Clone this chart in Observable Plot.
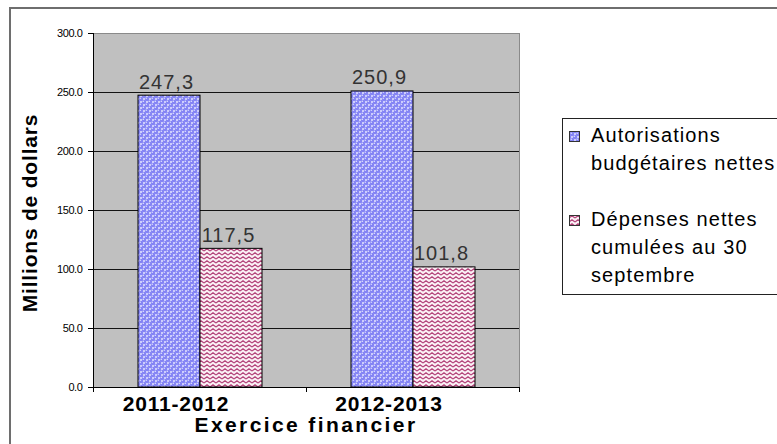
<!DOCTYPE html>
<html>
<head>
<meta charset="utf-8">
<script src="https://cdn.jsdelivr.net/npm/d3@7"></script>
<script src="https://cdn.jsdelivr.net/npm/@observablehq/plot@0.6"></script>
<style>
  body { margin: 0; background: #fff; font-family: Arial, "Liberation Sans", sans-serif; }
  #wrap { position: relative; width: 777px; height: 444px; overflow: hidden; background: #fff; }
  #border { position: absolute; left: 9px; top: 7px; width: 900px; height: 600px;
            border-left: 2px solid #6e6e6e; border-top: 2px solid #6e6e6e; }
  #chart { position: absolute; left: 0; top: 0; }
  #legend { position: absolute; left: 562px; top: 118px; width: 300px; height: 177px;
            border: 1px solid #222; background: #fff; box-sizing: border-box;
            font-size: 20px; line-height: 28px; letter-spacing: 1.1px; color: #000; padding-top: 2px; }
  .entry { position: relative; padding-left: 28px; margin-bottom: 28px; }
  .entry svg { position: absolute; left: 6px; top: 10px; }
  [aria-label="fx-axis tick label"] text { letter-spacing: 0.8px; }
  [aria-label="y-axis tick label"] text { letter-spacing: -0.4px; }
  .vlabel text { letter-spacing: 1px; }
</style>
</head>
<body>
<div id="wrap">
  <div id="border"></div>
  <div id="chart"></div>
  <div id="legend"></div>
</div>
<script>
const years = ["2011-2012", "2012-2013"];
const seriesNames = ["Autorisations budgétaires nettes", "Dépenses nettes cumulées au 30 septembre"];
const autorisations = [247.3, 250.9];
const depenses = [117.5, 101.8];
const yTicks = [0, 50, 100, 150, 200, 250, 300];
const gridTicks = [50, 100, 150, 200, 250];
const legendLines = [["Autorisations", "budgétaires nettes"], ["Dépenses nettes", "cumulées au 30", "septembre"]];
const patternIds = ["pat-dots", "pat-zigzag"];
const yTitle = "Millions de dollars";
const xTitle = "Exercice financier";

const data = years.flatMap((y, i) => [
  {year: y, series: seriesNames[0], value: autorisations[i]},
  {year: y, series: seriesNames[1], value: depenses[i]}
]);
const fmtVal = v => d3.format(".1f")(v).replace(".", ",");
const font = 'Arial, "Liberation Sans", sans-serif';
const W = 777, H = 444, mL = 93, mR = 258, mT = 33, mB = 57;

const chart = Plot.plot({
  width: W, height: H,
  marginLeft: mL, marginRight: mR, marginTop: mT, marginBottom: mB,
  style: {fontFamily: font, background: "transparent", overflow: "visible"},
  fx: {domain: years, paddingInner: 0, paddingOuter: 0},
  x: {domain: seriesNames, paddingInner: 0, paddingOuter: 0.71, axis: null},
  y: {domain: [0, 300]},
  color: {domain: seriesNames, range: patternIds.map(id => `url(#${id})`)},
  marks: [
    Plot.frame({fill: "#c0c0c0", stroke: null, shapeRendering: "crispEdges"}),
    Plot.ruleY(gridTicks, {stroke: "#000", strokeOpacity: 0.9}),
    Plot.ruleY([300], {stroke: "#8a8a8a"}),
    Plot.barY(data, {fx: "year", x: "series", y: "value", fill: "series", stroke: "#000", strokeWidth: 1, inset: 0}),
    Plot.ruleY([0], {stroke: "#000"}),
    Plot.axisY({ticks: yTicks, tickFormat: d3.format(".1f"), tickSize: 5, tickPadding: 6, fontSize: 11, label: null, stroke: "#000", fill: "#000"}),
    Plot.axisFx({anchor: "bottom", tickSize: 0, tickPadding: 9, dx: -24, fontSize: 21, fontWeight: "bold", label: null, fill: "#000"}),
    Plot.text(data, {fx: "year", x: "series", y: "value", text: d => fmtVal(d.value),
      lineAnchor: "bottom", dy: -7, dx: -3, fontSize: 20, fill: "#333", className: "vlabel"})
  ]
});

const svg = d3.select(chart);
const yScale = chart.scale("y");
const fxScale = chart.scale("fx");

// patterns
const defs = svg.insert("defs", ":first-child");
const pd = defs.append("pattern").attr("id", patternIds[0]).attr("patternUnits", "userSpaceOnUse")
  .attr("width", 6).attr("height", 6);
pd.append("rect").attr("width", 6).attr("height", 6).attr("fill", "#e6e6ff");
[[0,0],[6,0],[0,6],[6,6],[3,3]].forEach(([cx, cy]) => {
  pd.append("circle").attr("cx", cx).attr("cy", cy).attr("r", 2.3).attr("fill", "#8484f4");
  pd.append("circle").attr("cx", cx - 0.7).attr("cy", cy - 0.7).attr("r", 0.8).attr("fill", "#d8d8ff");
});
const pz = defs.append("pattern").attr("id", patternIds[1]).attr("patternUnits", "userSpaceOnUse")
  .attr("width", 6).attr("height", 4);
pz.append("rect").attr("width", 6).attr("height", 4).attr("fill", "#fbf0f5");
pz.append("path").attr("d", "M0,3 L3,0.8 L6,3").attr("fill", "none").attr("stroke", "#b3437a").attr("stroke-width", 1.15);

// plot-area borders (from the plot's own dimensions and scales)
const yTop = yScale.apply(300), yBot = yScale.apply(0);
svg.append("line").attr("x1", W - mR + 0.5).attr("x2", W - mR + 0.5).attr("y1", yTop).attr("y2", yBot)
  .attr("stroke", "#8a8a8a");
svg.append("line").attr("x1", mL + 0.5).attr("x2", mL + 0.5).attr("y1", yTop).attr("y2", yBot)
  .attr("stroke", "#000");
// category boundary ticks on the bottom axis
const bounds = [...years.map(y => fxScale.apply(y)), W - mR];
bounds.forEach(bx => {
  svg.append("line").attr("x1", Math.round(bx) + 0.5).attr("x2", Math.round(bx) + 0.5)
    .attr("y1", yBot).attr("y2", yBot + 5).attr("stroke", "#000");
});

// axis titles
svg.append("text").attr("transform", `translate(37,${(yTop + yBot) / 2 + 3}) rotate(-90)`).attr("text-anchor", "middle")
  .attr("font-size", 21).attr("font-weight", "bold").attr("letter-spacing", "0.8px").attr("fill", "#000")
  .attr("font-family", font).text(yTitle);
svg.append("text").attr("x", (mL + W - mR) / 2).attr("y", 432).attr("text-anchor", "middle")
  .attr("font-size", 21).attr("font-weight", "bold").attr("letter-spacing", "2.4px").attr("fill", "#000")
  .attr("font-family", font).text(xTitle);

document.getElementById("chart").appendChild(chart);

// legend
const legend = d3.select("#legend");
legendLines.forEach((lines, i) => {
  const e = legend.append("div").attr("class", "entry");
  const s = e.append("svg").attr("width", 11).attr("height", 11);
  s.append("rect").attr("x", 0.5).attr("y", 0.5).attr("width", 10).attr("height", 10)
    .attr("fill", `url(#${patternIds[i]})`).attr("stroke", "#333");
  lines.forEach(l => e.append("div").text(l));
});
</script>
</body>
</html>
